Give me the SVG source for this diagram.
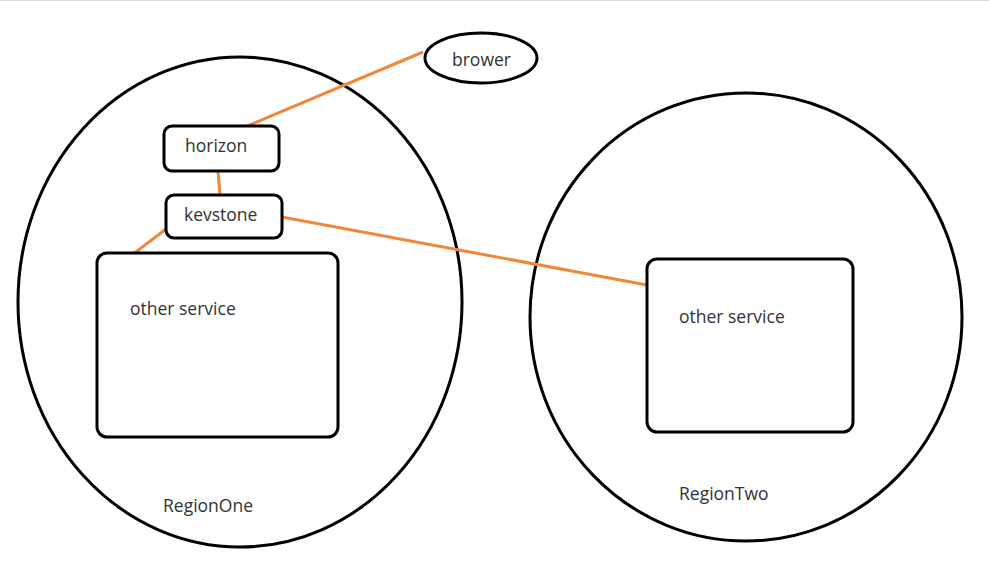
<svg xmlns="http://www.w3.org/2000/svg" width="989" height="563" viewBox="0 0 989 563">
<style>
.reg{fill:none;stroke:#000;stroke-width:3}
.box{fill:#fff;stroke:#000;stroke-width:3}
.lbl{font-family:"Open Sans","Liberation Sans",sans-serif;font-size:17.5px;fill:#333}
.con{stroke:#F0873A;stroke-width:3;fill:none}
</style>
<rect x="0" y="0" width="989" height="563" fill="#fff"/>
<line x1="0" y1="0.5" x2="989" y2="0.5" stroke="#ddd" stroke-width="1"/>
<g id="regionOne">
<ellipse class="reg" cx="240" cy="302" rx="222" ry="245"/>
<text class="lbl" x="163" y="512">RegionOne</text>
</g>
<g id="regionTwo">
<ellipse class="reg" cx="746" cy="317" rx="216" ry="224"/>
<text class="lbl" x="679" y="500">RegionTwo</text>
</g>
<g id="connectors">
<line class="con" x1="423" y1="52" x2="245" y2="127"/>
<line class="con" x1="218" y1="171" x2="220" y2="195"/>
<line class="con" x1="282" y1="217" x2="647" y2="285"/>
<line class="con" x1="166" y1="229" x2="132" y2="255"/>
</g>
<g id="brower">
<ellipse class="reg" cx="481" cy="58" rx="56" ry="25" fill="#fff"/>
<text class="lbl" x="452" y="66">brower</text>
</g>
<g id="horizon">
<rect class="box" x="164" y="126" width="115" height="45" rx="8"/>
<text class="lbl" x="185" y="152">horizon</text>
</g>
<g id="keystone">
<rect class="box" x="166" y="195" width="116" height="43" rx="8"/>
<text class="lbl" x="184" y="221">kevstone</text>
</g>
<g id="otherServiceOne">
<rect class="box" x="97" y="253" width="241" height="184" rx="10"/>
<text class="lbl" x="130" y="315">other service</text>
</g>
<g id="otherServiceTwo">
<rect class="box" x="647" y="259" width="206" height="173" rx="10"/>
<text class="lbl" x="679" y="323">other service</text>
</g>
</svg>
